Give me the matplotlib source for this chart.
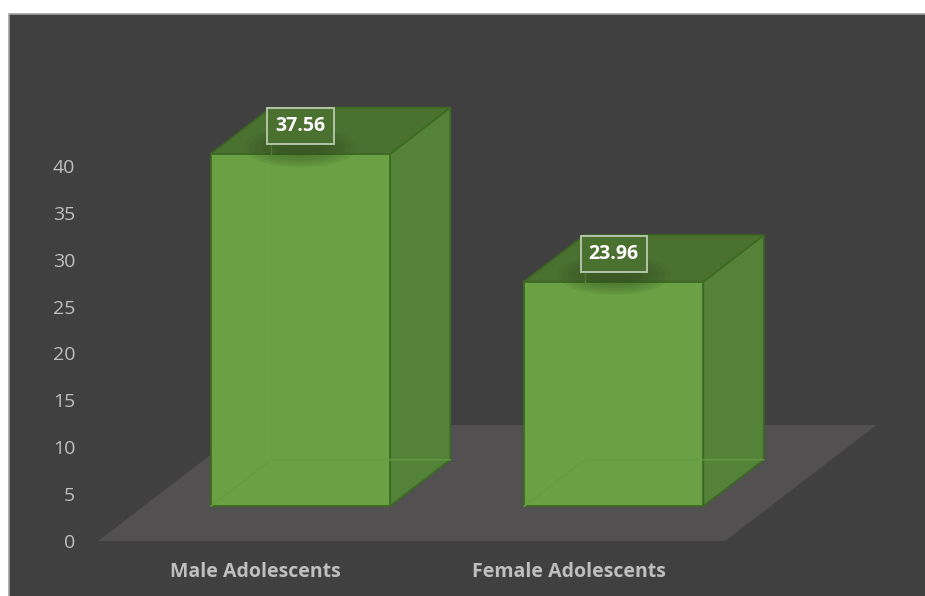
import numpy as np
import matplotlib
matplotlib.use("Agg")
import matplotlib.pyplot as plt
from matplotlib.patches import Polygon, Rectangle, Ellipse

plt.rcParams['font.family'] = ['Open Sans', 'DejaVu Sans']

# data
categories = ['Male Adolescents', 'Female Adolescents']
values = [37.56, 23.96]
value_labels = ['37.56', '23.96']
yticks = [0, 5, 10, 15, 20, 25, 30, 35, 40]

# colours
bg = '#404040'
floor_col = '#525051'
front_col = '#6aa144'
side_col = '#548238'
top_col = '#4b7131'
edge_col = '#3d6a22'
text_col = '#bfbfbf'

# oblique "3d" settings (category units / value units)
bar_w = 0.571
depth_x = 0.482
depth_y = 12.37
z0, z1 = 0.3, 0.7


def proj(x, y, z):
    return (x + z * depth_x, y + z * depth_y)


W, H = 925, 596
fig = plt.figure(figsize=(W / 100, H / 100), dpi=100)
fig.patch.set_facecolor('white')

# dark panel with a light border on top/left only
panel = Rectangle((9 / W, -0.05), 1.1, 0.05 + 582 / H, transform=fig.transFigure,
                  facecolor=bg, edgecolor='#a0a0a0', lw=1.2, zorder=-5)
fig.patches.append(panel)

# axes: pixel mapping x_px = 255 + 313.5*x, y_px(top) = 541 - 9.375*v
px_per_cat = 313.5
px_per_val = 9.375
L, R, B, T = 85, 915, 541, 14
ax = fig.add_axes([L / W, (H - B) / H, (R - L) / W, (B - T) / H])
ax.set_facecolor('none')
ax.set_xlim((L - 255) / px_per_cat, (R - 255) / px_per_cat)
ax.set_ylim(0, (B - T) / px_per_val)
for s in ax.spines.values():
    s.set_visible(False)

ax.set_yticks(yticks)
ax.set_yticklabels([str(t) for t in yticks])
ax.tick_params(axis='y', length=0, pad=7, labelsize=14, labelcolor=text_col)
xs = np.arange(len(categories))
ax.set_xticks(xs)
ax.set_xticklabels(categories, fontweight='bold')
ax.tick_params(axis='x', length=0, pad=15, labelsize=14, labelcolor=text_col)

# floor
fx0, fx1 = xs[0] - 0.5, xs[-1] + 0.5
floor = [proj(fx0, 0, 0), proj(fx1, 0, 0), proj(fx1, 0, 1), proj(fx0, 0, 1)]
ax.add_patch(Polygon(floor, closed=True, facecolor=floor_col, edgecolor='none',
                     clip_on=False, zorder=1))

for x, v, lab in zip(xs, values, value_labels):
    a, b = x - bar_w / 2, x + bar_w / 2
    front = [proj(a, 0, z0), proj(b, 0, z0), proj(b, v, z0), proj(a, v, z0)]
    side = [proj(b, 0, z0), proj(b, 0, z1), proj(b, v, z1), proj(b, v, z0)]
    top = [proj(a, v, z0), proj(b, v, z0), proj(b, v, z1), proj(a, v, z1)]
    ax.add_patch(Polygon(side, closed=True, facecolor=side_col, edgecolor=edge_col,
                         lw=1.3, clip_on=False, zorder=2))
    ax.add_patch(Polygon(top, closed=True, facecolor=top_col, edgecolor=edge_col,
                         lw=1.3, clip_on=False, zorder=2))
    ax.add_patch(Polygon(front, closed=True, facecolor=front_col, edgecolor=edge_col,
                         lw=1.3, clip_on=False, zorder=3))
    # faint hidden edges seen through the bar
    hid = [proj(a, 0, z0), proj(a, 0, z1), proj(b, 0, z1)]
    ax.plot([p[0] for p in hid], [p[1] for p in hid], color='#649c3f', lw=1,
            clip_on=False, zorder=4)
    vl = [proj(a, 0, z1), proj(a, v, z1)]
    ax.plot([p[0] for p in vl], [p[1] for p in vl], color='#679f42', lw=1,
            clip_on=False, zorder=4)

    # label with soft shadow
    lx, ly = proj(x, v, 0.54)
    lx -= (0.54 - z0) * depth_x
    for k in range(7):
        ax.add_patch(Ellipse((lx, ly - 2.2), 0.36 - 0.035 * k, 4.4 - 0.5 * k,
                             facecolor='#2c451c', edgecolor='none', alpha=0.09,
                             clip_on=False, zorder=5))
    ax.text(lx, ly, lab, ha='center', va='center', color='white', fontsize=14,
            fontweight='bold', zorder=7,
            bbox=dict(boxstyle='square,pad=0.42', facecolor=top_col,
                      edgecolor='#b4c3a8', lw=1.4))

fig.savefig('out.png', dpi=100, facecolor=fig.get_facecolor())
